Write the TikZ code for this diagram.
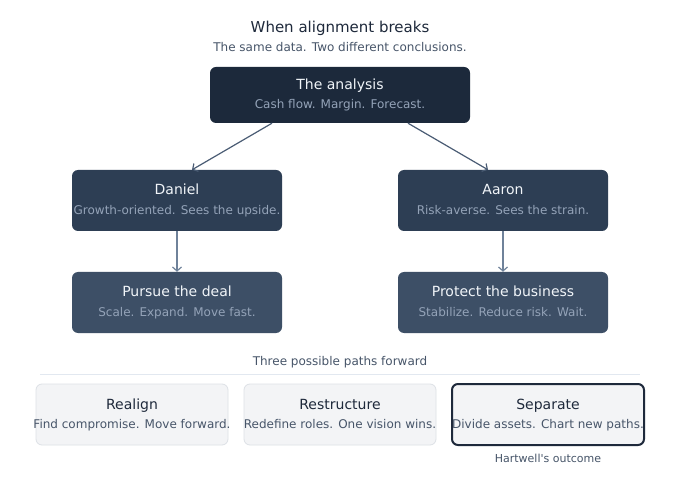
\documentclass[tikz,border=0pt]{standalone}
\usepackage{fontspec}
\setmainfont{DejaVu Sans}[Ligatures=TeXOff]
\usetikzlibrary{arrows.meta,calc}
\definecolor{cTitle}{HTML}{1E293B}
\definecolor{cSub}{HTML}{475569}
\definecolor{cAna}{HTML}{1C293B}
\definecolor{cPer}{HTML}{2D3E54}
\definecolor{cAct}{HTML}{3D4F66}
\definecolor{cLight}{HTML}{F1F5F9}
\definecolor{cMuted}{HTML}{94A3B8}
\definecolor{cArrowA}{HTML}{4A5C74}
\definecolor{cArrowB}{HTML}{6F829A}
\definecolor{cRule}{HTML}{E2E8F0}
\definecolor{cOpt}{HTML}{F3F4F6}
\definecolor{cOptBorder}{HTML}{DDE1E6}
\tikzset{
  box/.style={rectangle, rounded corners=6pt, inner sep=0pt, minimum width=#1},
  box/.default=210pt,
  dark/.style={box=260pt, fill=cAna, minimum height=56pt},
  person/.style={box, fill=cPer, minimum height=61pt},
  action/.style={box, fill=cAct, minimum height=61pt},
  option/.style={box=192pt, fill=cOpt, draw=cOptBorder, line width=0.8pt, minimum height=61pt},
  chosen/.style={box=192pt, fill=cOpt, draw=cTitle, line width=2pt, minimum height=61pt},
  ttl/.style={anchor=base, inner sep=0pt, text=cLight, font=\fontsize{14}{16}\selectfont},
  sub/.style={anchor=base, inner sep=0pt, text=cMuted, font=\fontsize{12}{14}\selectfont},
  ttldark/.style={ttl, text=cTitle},
  subdark/.style={sub, text=cSub},
  conn/.style={draw=cArrowA, line width=1.2pt, -{Straight Barb[length=4pt,width=9pt,line width=1.2pt]}},
  connv/.style={draw=cArrowB, line width=1.2pt, -{Straight Barb[length=4pt,width=9pt,line width=1.2pt]}},
}
\newcommand{\card}[8]{%
  \node[#4] (#1) at (#2,#3) {};
  \node[#5] (#1-t) at (#2,#3-5.5) {#7};
  \node[#6] (#1-s) at (#2,#3+14) {#8};
}
\begin{document}
\begin{tikzpicture}[x=1pt,y=-1pt]
\useasboundingbox[fill=white] (0,0) rectangle (680,478);
\node[anchor=base, inner sep=0pt, text=cTitle, font=\fontsize{15}{17}\selectfont] (title) at (340,32.5) {When alignment breaks};
\node[anchor=base, inner sep=0pt, text=cSub, font=\fontsize{12}{14}\selectfont] (subtitle) at (340,52) {The same data. Two different conclusions.};

\card{ana}{340}{95}{dark}{ttl}{sub}{The analysis}{Cash flow. Margin. Forecast.}
\card{dan}{177}{200.5}{person}{ttl}{sub}{Daniel}{Growth-oriented. Sees the upside.}
\card{aar}{503}{200.5}{person}{ttl}{sub}{Aaron}{Risk-averse. Sees the strain.}
\card{pur}{177}{302.5}{action}{ttl}{sub}{Pursue the deal}{Scale. Expand. Move fast.}
\card{pro}{503}{302.5}{action}{ttl}{sub}{Protect the business}{Stabilize. Reduce risk. Wait.}

\draw[conn] ($(ana.south)+(-68,0)$) -- ($(dan.north)+(15,0)$);
\draw[conn] ($(ana.south)+(68,0)$) -- ($(aar.north)+(-15,0)$);
\draw[connv] (dan.south) -- (pur.north);
\draw[connv] (aar.south) -- (pro.north);

\node[anchor=base, inner sep=0pt, text=cSub, font=\fontsize{12}{14}\selectfont] (paths) at (340,365.5) {Three possible paths forward};
\coordinate (ruleL) at (40,374);
\coordinate (ruleR) at (640,374);
\draw[cRule, line width=1pt] (ruleL) -- (ruleR);

\card{rea}{132}{414.5}{option}{ttldark}{subdark}{Realign}{Find compromise. Move forward.}
\card{res}{340}{414.5}{option}{ttldark}{subdark}{Restructure}{Redefine roles. One vision wins.}
\card{sep}{548}{414.5}{chosen}{ttldark}{subdark}{Separate}{Divide assets. Chart new paths.}
\node[anchor=base, inner sep=0pt, text=cSub, font=\fontsize{11}{13}\selectfont] (outcome) at (548,462) {Hartwell's outcome};
\end{tikzpicture}
\end{document}
